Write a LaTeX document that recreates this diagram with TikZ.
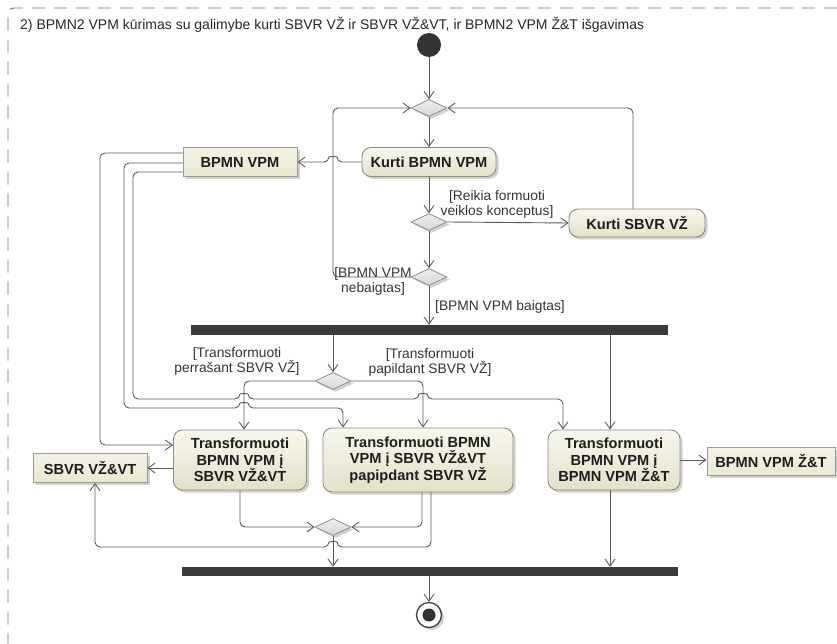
\documentclass[tikz,border=0pt]{standalone}
\usepackage{fontspec}
\setmainfont{Liberation Sans}
\usetikzlibrary{arrows.meta,shapes.geometric,shadows}

\definecolor{linecol}{HTML}{5A5A5A}
\definecolor{actborder}{HTML}{8E8D79}
\definecolor{acttop}{HTML}{F8F7EE}
\definecolor{actbot}{HTML}{E3E1C8}
\definecolor{objborder}{HTML}{9C9B86}
\definecolor{objtop}{HTML}{F4F3E4}
\definecolor{objbot}{HTML}{E9E8D2}
\definecolor{barcol}{HTML}{3A3A3A}
\definecolor{diatop}{HTML}{EFEFEF}
\definecolor{diabot}{HTML}{D6D6D6}
\definecolor{diaborder}{HTML}{8C8C8C}
\definecolor{txtcol}{HTML}{1E1E1E}
\definecolor{framecol}{HTML}{6E6E6E}

\tikzset{
  softshadow/.style={drop shadow={shadow xshift=2.5pt, shadow yshift=-2.5pt, fill=black!40, opacity=0.45}},
  flow/.style={draw=linecol, line width=0.9pt, rounded corners=5pt,
    -{Straight Barb[length=7pt,width=10pt,line width=0.9pt]}},
  action/.style={draw=actborder, line width=0.9pt, rounded corners=9pt,
    top color=acttop, bottom color=actbot, softshadow,
    font=\bfseries\fontsize{14.6}{16.5}\selectfont, text=txtcol,
    align=center, inner sep=0pt},
  objbox/.style={draw=objborder, line width=0.9pt, rectangle,
    top color=objtop, bottom color=objbot, softshadow,
    font=\bfseries\fontsize{14.6}{16.5}\selectfont, text=txtcol,
    align=center, inner sep=0pt},
  decision/.style={diamond, draw=diaborder, line width=0.8pt,
    top color=diatop, bottom color=diabot, softshadow,
    minimum width=36pt, minimum height=17pt, inner sep=0pt},
  bar/.style={rectangle, fill=barcol, inner sep=0pt},
  guard/.style={font=\fontsize{13.8}{15}\selectfont, text=black!80, align=center, inner sep=0pt},
}

\begin{document}
\begin{tikzpicture}[x=1pt,y=-1pt]
\useasboundingbox (0,0) rectangle (837,644);

% diagram frame
\draw[framecol, line width=0.9pt, dash pattern=on 13pt off 9pt, rounded corners=6pt]
  (837,8) -- (8,8) -- (8,644);
\node[anchor=base west, font=\fontsize{14}{16}\selectfont, text=black!85, inner sep=0pt] (title) at (20,30)
  {2) BPMN2 VPM kūrimas su galimybe kurti SBVR VŽ ir SBVR VŽ\&VT, ir BPMN2 VPM Ž\&T išgavimas};

% control nodes
\node[circle, fill=black!80, minimum size=24pt, inner sep=0pt] (init) at (429,45) {};
\node[decision] (d1) at (429,108) {};
\node[decision] (d2) at (429,222) {};
\node[decision] (d3) at (429,277) {};
\node[decision] (d4) at (333,381) {};
\node[decision] (d5) at (333,527) {};
\node[bar, minimum width=477pt, minimum height=10pt] (fork1) at (429.5,330) {};
\node[bar, minimum width=496pt, minimum height=9pt] (fork2) at (430,571.5) {};
\node[circle, draw=black!75, line width=1.3pt, fill=white, minimum size=25pt, inner sep=0pt, softshadow,
  path picture={\fill[black!80] (path picture bounding box.center) circle (6.5pt);}] (final) at (429,615) {};

% actions
\node[action, minimum width=134pt, minimum height=29pt] (kbpmn) at (429,162) {Kurti BPMN VPM};
\node[action, minimum width=136pt, minimum height=28pt] (ksbvr) at (637,223) {Kurti SBVR VŽ};
\node[action, minimum width=133pt, minimum height=60pt] (t1) at (240,460)
  {Transformuoti\\BPMN VPM į\\SBVR VŽ\&VT};
\node[action, minimum width=190pt, minimum height=64pt] (t2) at (418,460)
  {Transformuoti BPMN\\VPM į SBVR VŽ\&VT\\papipdant SBVR VŽ};
\node[action, minimum width=132pt, minimum height=60pt] (t3) at (614,460)
  {Transformuoti\\BPMN VPM į\\BPMN VPM Ž\&T};

% object nodes
\node[objbox, minimum width=114pt, minimum height=29pt] (bpmn) at (240,162) {BPMN VPM};
\node[objbox, minimum width=114pt, minimum height=29pt] (sbvr) at (90,468) {SBVR VŽ\&VT};
\node[objbox, minimum width=128pt, minimum height=28pt] (zt) at (771,461) {BPMN VPM Ž\&T};

% guards
\node[guard] (gReikia) at (497,204) {[Reikia formuoti\\veiklos konceptus]};
\node[guard] (gNebaigtas) at (373,281) {[BPMN VPM\\nebaigtas]};
\node[guard] (gBaigtas) at (500,307) {[BPMN VPM baigtas]};
\node[guard] (gPerrasant) at (237,361) {[Transformuoti\\perrašant SBVR VŽ]};
\node[guard] (gPapildant) at (430,362) {[Transformuoti\\papildant SBVR VŽ]};

% upper loop
\draw[flow] (init) -- (d1.north);
\draw[flow] (d1.south) -- (kbpmn.north);
\draw[flow] (kbpmn.west) -- (337,162) .. controls (337,156.5) and (329,156.5) .. (329,162) -- (bpmn.east);
\draw[flow] (kbpmn.south) -- (d2.north);
\draw[flow] (d2.east) -- (ksbvr.west);
\draw[flow] ([xshift=-4pt]ksbvr.north) |- (d1.east);
\draw[flow] (d2.south) -- (d3.north);
\draw[flow] (d3.west) -- (333,277) -- (333,108) -- (d1.west);
\draw[flow] (d3.south) -- (d3.south |- fork1.north);

% fork into transformations
\draw[flow] (d4.north |- fork1.south) -- (d4.north);
\draw[flow] ([xshift=-4pt]t3.north |- fork1.south) -- ([xshift=-4pt]t3.north);
\draw[flow] (d4.west) -| ([xshift=4pt]t1.north);
\draw[flow] (d4.east) -| ([xshift=5pt]t2.north);

% model inputs
\draw[flow] ([yshift=9pt]bpmn.west) -- (100,153) -- (100,445) -- ([yshift=15pt]t1.west);
\draw[flow] ([yshift=-1pt]bpmn.west) -- (124,163) -- (124,408) -- (240,408)
  .. controls (240,402.5) and (248,402.5) .. (248,408) -- (343,408) -- ([xshift=-75pt]t2.north);
\draw[flow] ([yshift=-10pt]bpmn.west) -- (133,172) -- (133,399) -- (240,399)
  .. controls (240,393.5) and (248,393.5) .. (248,399) -- (419,399)
  .. controls (419,393.5) and (427,393.5) .. (427,399) -- (563,399) -- ([xshift=-51pt]t3.north);

% outputs
\draw[flow] (t1.west |- sbvr.east) -- (sbvr.east);
\draw[flow] (t3.east) -- (t3.east -| zt.west);
\draw[flow] (t1.south) |- (d5.west);
\draw[flow] ([xshift=4pt]t2.south) |- (d5.east);
\draw[flow] ([xshift=13pt]t2.south) -- (431,547) -- (337,547)
  .. controls (337,541.5) and (329,541.5) .. (329,547) -- (95,547) -- ([xshift=5pt]sbvr.south);

% join and end
\draw[flow] (d5.south) -- (d5.south |- fork2.north);
\draw[flow] ([xshift=-4pt]t3.south) -- ([xshift=-4pt]t3.south |- fork2.north);
\draw[flow] (final.north |- fork2.south) -- (final.north);
\end{tikzpicture}
\end{document}
